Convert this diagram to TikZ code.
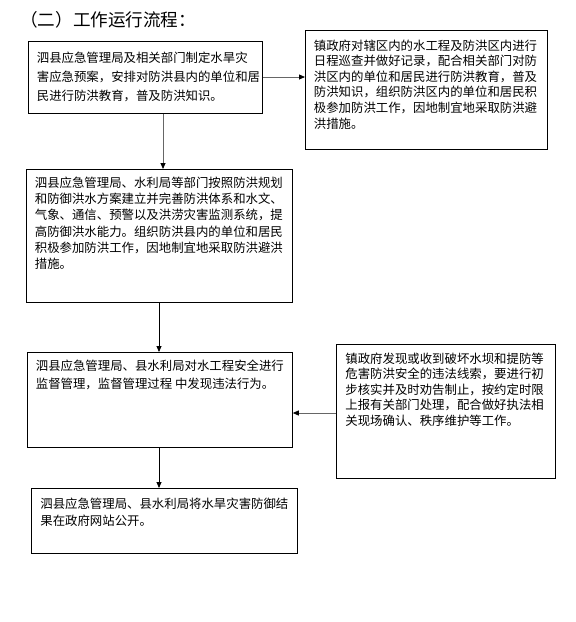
\documentclass[tikz,border=0pt]{standalone}
\usepackage{fontspec}
\setmainfont{Noto Sans CJK SC}
\usetikzlibrary{arrows.meta}
% #1 width, #2 height, #3 top pad, #4 left pad, #5 baselineskip, #6 lines
\newcommand{\bxt}[6]{\parbox[c][#2][t]{#1}{\setlength{\parindent}{0pt}\setlength{\leftskip}{#4}\fontsize{12.4pt}{#5}\selectfont\vspace*{#3}\rule{0pt}{12pt}#6\par}}
\tikzset{
  flowbox/.style={draw=black, line width=0.8pt, inner sep=0pt, anchor=north west},
  arrk/.style={line width=0.8pt, draw=black, -{Triangle[length=6pt,width=5pt,color=black]}},
  arrg/.style={line width=0.8pt, draw=black!60, -{Triangle[length=6pt,width=5pt,color=black]}},
}
\begin{document}
\begin{tikzpicture}[x=1pt,y=-1pt]
\useasboundingbox[fill=white] (0,0) rectangle (576,622);
\node[anchor=west, inner sep=0pt, font=\fontsize{17.6pt}{20pt}\selectfont] (title) at (20,20) {（二）工作运行流程：};

\node[flowbox] (b1) at (28,41) {\bxt{234pt}{72pt}{8.7pt}{8.5pt}{19.3pt}{泗县应急管理局及相关部门制定水旱灾\\害应急预案，安排对防洪县内的单位和居\\民进行防洪教育，普及防洪知识。}};

\node[flowbox] (b2) at (305,30) {\bxt{242pt}{119pt}{7.7pt}{8.5pt}{15.6pt}{镇政府对辖区内的水工程及防洪区内进行\\日程巡查并做好记录，配合相关部门对防\\洪区内的单位和居民进行防洪教育，普及\\防洪知识，组织防洪区内的单位和居民积\\极参加防洪工作，因地制宜地采取防洪避\\洪措施。}};

\node[flowbox] (b3) at (26,169) {\bxt{266pt}{133pt}{5.7pt}{8.5pt}{16.3pt}{泗县应急管理局、水利局等部门按照防洪规划\\和防御洪水方案建立并完善防洪体系和水文、\\气象、通信、预警以及洪涝灾害监测系统，提\\高防御洪水能力。组织防洪县内的单位和居民\\积极参加防洪工作，因地制宜地采取防洪避洪\\措施。}};

\node[flowbox] (b4) at (27,352) {\bxt{265pt}{95pt}{5.7pt}{8.5pt}{18.5pt}{泗县应急管理局、县水利局对水工程安全进行\\监督管理，监督管理过程 中发现违法行为。}};

\node[flowbox] (b5) at (336,344) {\bxt{219pt}{134pt}{6.7pt}{9pt}{15.6pt}{镇政府发现或收到破坏水坝和提防等\\危害防洪安全的违法线索，要进行初\\步核实并及时劝告制止，按约定时限\\上报有关部门处理，配合做好执法相\\关现场确认、秩序维护等工作。}};

\node[flowbox] (b6) at (31,488) {\bxt{266pt}{65pt}{7.7pt}{9pt}{17.5pt}{泗县应急管理局、县水利局将水旱灾害防御结\\果在政府网站公开。}};

\draw[arrg] (b1.east |- 0,77) -- (b2.west |- 0,77);
\draw[arrg] (b1.south -| 163,0) -- (b3.north -| 163,0);
\draw[arrk] (b3.south -| 159,0) -- (b4.north -| 159,0);
\draw[arrk] (b4.south -| 159,0) -- (b6.north -| 159,0);
\draw[arrg] (b5.west |- 0,413) -- (b4.east |- 0,413);
\end{tikzpicture}
\end{document}
